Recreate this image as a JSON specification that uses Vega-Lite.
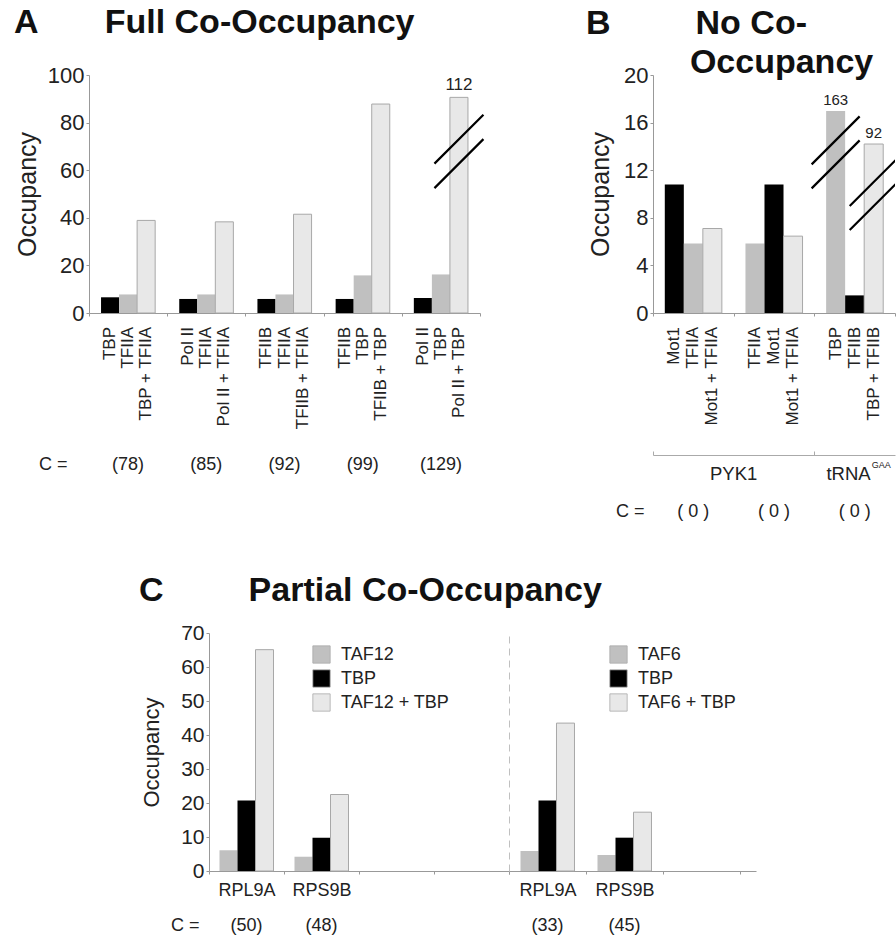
{
  "$schema": "https://vega.github.io/schema/vega-lite/v6.json",
  "background": "white",
  "padding": {"left": 14, "top": 6, "right": 0, "bottom": 0},
  "config": {
    "font": "Liberation Sans",
    "view": {"stroke": null},
    "axis": {"domainColor": "#999", "tickColor": "#999", "labelColor": "#222", "titleColor": "#222", "grid": false, "titleFontWeight": "normal", "labelFont": "Liberation Sans", "titleFont": "Liberation Sans", "labelOverlap": false},
    "title": {"font": "Liberation Sans", "fontSize": 34, "fontWeight": "bold", "color": "#111", "anchor": "start", "frame": "group"},
    "legend": {"title": null, "symbolType": "square", "symbolSize": 300, "labelFontSize": 18, "labelColor": "#222", "labelFont": "Liberation Sans", "rowPadding": 3, "labelOffset": 10, "padding": 0, "symbolStrokeColor": "#aaa", "symbolStrokeWidth": 0.8},
    "text": {"font": "Liberation Sans", "color": "#222"}
  },
  "datasets": {
    "A": [
      {"g": "1", "i": 1, "lab": "TBP", "kind": "factor 1", "v": 6.6},
      {"g": "1", "i": 2, "lab": "TFIIA", "kind": "factor 2", "v": 7.8},
      {"g": "1", "i": 3, "lab": "TBP + TFIIA", "kind": "both", "v": 38.9},
      {"g": "2", "i": 1, "lab": "Pol II", "kind": "factor 1", "v": 5.9},
      {"g": "2", "i": 2, "lab": "TFIIA", "kind": "factor 2", "v": 7.8},
      {"g": "2", "i": 3, "lab": "Pol II + TFIIA", "kind": "both", "v": 38.3},
      {"g": "3", "i": 1, "lab": "TFIIB", "kind": "factor 1", "v": 5.9},
      {"g": "3", "i": 2, "lab": "TFIIA", "kind": "factor 2", "v": 7.8},
      {"g": "3", "i": 3, "lab": "TFIIB + TFIIA", "kind": "both", "v": 41.5},
      {"g": "4", "i": 1, "lab": "TFIIB", "kind": "factor 1", "v": 5.9},
      {"g": "4", "i": 2, "lab": "TBP", "kind": "factor 2", "v": 15.8},
      {"g": "4", "i": 3, "lab": "TFIIB + TBP", "kind": "both", "v": 87.8},
      {"g": "5", "i": 1, "lab": "Pol II", "kind": "factor 1", "v": 6.3},
      {"g": "5", "i": 2, "lab": "TBP", "kind": "factor 2", "v": 16.2},
      {"g": "5", "i": 3, "lab": "Pol II + TBP", "kind": "both", "v": 90.6, "actual": "112"}
    ],
    "Acnt": [
      {"g": "1", "c": "(78)"}, {"g": "2", "c": "(85)"}, {"g": "3", "c": "(92)"}, {"g": "4", "c": "(99)"}, {"g": "5", "c": "(129)"}
    ],
    "Abrk": [{"g": "5", "i": 3, "v": 67.9}],
    "B": [
      {"g": "1", "i": 1, "lab": "Mot1", "kind": "factor 1", "v": 10.8},
      {"g": "1", "i": 2, "lab": "TFIIA", "kind": "factor 2", "v": 5.84},
      {"g": "1", "i": 3, "lab": "Mot1 + TFIIA", "kind": "both", "v": 7.1},
      {"g": "2", "i": 1, "lab": "TFIIA", "kind": "factor 2", "v": 5.84},
      {"g": "2", "i": 2, "lab": "Mot1", "kind": "factor 1", "v": 10.8},
      {"g": "2", "i": 3, "lab": "Mot1 + TFIIA", "kind": "both", "v": 6.46},
      {"g": "3", "i": 1, "lab": "TBP", "kind": "factor 2", "v": 16.97, "actual": "163"},
      {"g": "3", "i": 2, "lab": "TFIIB", "kind": "factor 1", "v": 1.48},
      {"g": "3", "i": 3, "lab": "TBP + TFIIB", "kind": "both", "v": 14.2, "actual": "92"}
    ],
    "Bcnt": [{"g": "1", "c": "( 0 )"}, {"g": "2", "c": "( 0 )"}, {"g": "3", "c": "( 0 )"}],
    "Bbrk": [{"g": "3", "i": 1, "v": 13.5}, {"g": "3", "i": 3, "v": 10.0}],
    "C1": [
      {"gene": "RPL9A", "name": "TAF12", "v": 6.1},
      {"gene": "RPL9A", "name": "TBP", "v": 20.75},
      {"gene": "RPL9A", "name": "TAF12 + TBP", "v": 65.1},
      {"gene": "RPS9B", "name": "TAF12", "v": 4.2},
      {"gene": "RPS9B", "name": "TBP", "v": 9.8},
      {"gene": "RPS9B", "name": "TAF12 + TBP", "v": 22.5}
    ],
    "C1cnt": [{"gene": "RPL9A", "c": "(50)"}, {"gene": "RPS9B", "c": "(48)"}],
    "C2": [
      {"gene": "RPL9A", "name": "TAF6", "v": 5.9},
      {"gene": "RPL9A", "name": "TBP", "v": 20.75},
      {"gene": "RPL9A", "name": "TAF6 + TBP", "v": 43.5},
      {"gene": "RPS9B", "name": "TAF6", "v": 4.7},
      {"gene": "RPS9B", "name": "TBP", "v": 9.8},
      {"gene": "RPS9B", "name": "TAF6 + TBP", "v": 17.3}
    ],
    "C2cnt": [{"gene": "RPL9A", "c": "(33)"}, {"gene": "RPS9B", "c": "(45)"}]
  },
  "bounds": "flush",
  "spacing": 558,
  "resolve": {"scale": {"x": "independent", "y": "independent", "xOffset": "independent", "fill": "independent"}, "legend": {"fill": "independent"}},
  "vconcat": [
    {
      "hconcat": [
        {
          "width": 391,
          "height": 238,
          "title": {"text": "A\u00a0\u00a0\u00a0\u00a0\u00a0\u00a0\u00a0Full Co-Occupancy", "dx": -75, "offset": 24},
          "layer": [
            {
              "data": {"name": "A"},
              "mark": {"type": "bar"},
              "encoding": {
                "x": {"field": "g", "type": "nominal", "scale": {"paddingInner": 0, "paddingOuter": 0}, "axis": {"title": null, "labels": false, "tickBand": "extent", "tickSize": 3}},
                "xOffset": {"field": "i", "type": "nominal", "scale": {"paddingInner": 0, "paddingOuter": 0.667}},
                "y": {"field": "v", "type": "quantitative", "scale": {"domain": [0, 100], "nice": false}, "axis": {"values": [0, 20, 40, 60, 80, 100], "title": "Occupancy", "labelFontSize": 22, "titleFontSize": 25, "tickSize": 3, "labelPadding": 2, "titlePadding": 7, "labelOverlap": false}},
                "fill": {"field": "kind", "type": "nominal", "scale": {"domain": ["factor 1", "factor 2", "both"], "range": ["#000000", "#c0c0c0", "#e8e8e8"]}, "legend": null},
                "stroke": {"condition": {"test": "datum.kind == 'both'", "value": "#a8a8a8"}, "value": null}
              }
            },
            {
              "data": {"name": "A"},
              "mark": {"type": "text", "angle": 270, "align": "right", "baseline": "middle", "dx": -14, "fontSize": 17},
              "encoding": {
                "x": {"field": "g", "type": "nominal"},
                "xOffset": {"field": "i", "type": "nominal"},
                "y": {"datum": 0},
                "text": {"field": "lab"}
              }
            },
            {
              "data": {"name": "A"},
              "transform": [{"filter": "isValid(datum.actual)"}],
              "mark": {"type": "text", "baseline": "alphabetic", "dy": -7, "fontSize": 17},
              "encoding": {
                "x": {"field": "g", "type": "nominal"},
                "xOffset": {"field": "i", "type": "nominal"},
                "y": {"field": "v", "type": "quantitative"},
                "text": {"field": "actual"}
              }
            },
            {
              "data": {"name": "Abrk"},
              "mark": {"type": "point", "shape": "M-1,0.5L1,-1.5M-1,1.5L1,-0.5", "size": 2400, "filled": false, "stroke": "#000", "strokeWidth": 2.2, "opacity": 1},
              "encoding": {
                "x": {"field": "g", "type": "nominal"},
                "xOffset": {"field": "i", "type": "nominal"},
                "y": {"field": "v", "type": "quantitative"}
              }
            },
            {
              "data": {"name": "Acnt"},
              "mark": {"type": "text", "baseline": "middle", "dy": 152, "fontSize": 18},
              "encoding": {
                "x": {"field": "g", "type": "nominal"},
                "y": {"datum": 0},
                "text": {"field": "c"}
              }
            },
            {
              "data": {"values": [{"g": "1", "t": "C ="}]},
              "mark": {"type": "text", "align": "left", "baseline": "middle", "dx": -50, "dy": 152, "fontSize": 18},
              "encoding": {
                "x": {"field": "g", "type": "nominal", "bandPosition": 0},
                "y": {"datum": 0},
                "text": {"field": "t"}
              }
            }
          ]
        },
        {
          "width": 242,
          "height": 238,
          "title": {"text": ["B\u00a0\u00a0\u00a0\u00a0\u00a0\u00a0\u00a0\u00a0\u00a0No Co-", "\u200b\u00a0\u00a0\u00a0\u00a0\u00a0\u00a0\u00a0\u00a0\u00a0\u00a0\u00a0Occupancy"], "dx": -67, "offset": -16, "lineHeight": 39},
          "resolve": {"axis": {"x": "independent"}},
          "layer": [
            {
              "data": {"name": "B"},
              "mark": {"type": "bar"},
              "encoding": {
                "x": {"field": "g", "type": "nominal", "scale": {"paddingInner": 0, "paddingOuter": 0}, "axis": {"title": null, "labels": false, "tickBand": "extent", "tickSize": 3}},
                "xOffset": {"field": "i", "type": "nominal", "scale": {"paddingInner": 0, "paddingOuter": 0.62}},
                "y": {"field": "v", "type": "quantitative", "scale": {"domain": [0, 20], "nice": false}, "axis": {"values": [0, 4, 8, 12, 16, 20], "title": "Occupancy", "labelFontSize": 22, "titleFontSize": 25, "tickSize": 3, "labelPadding": 2, "titlePadding": 10, "labelOverlap": false}},
                "fill": {"field": "kind", "type": "nominal", "scale": {"domain": ["factor 1", "factor 2", "both"], "range": ["#000000", "#c0c0c0", "#e8e8e8"]}, "legend": null},
                "stroke": {"condition": {"test": "datum.kind == 'both'", "value": "#a8a8a8"}, "value": null}
              }
            },
            {
              "data": {"name": "B"},
              "mark": {"type": "text", "angle": 270, "align": "right", "baseline": "middle", "dx": -14, "fontSize": 17},
              "encoding": {
                "x": {"field": "g", "type": "nominal", "axis": {"title": null, "labels": false, "orient": "bottom", "offset": 142, "values": ["1", "3"], "bandPosition": 0, "tickSize": -4, "domainColor": "#aaa", "tickColor": "#aaa"}},
                "xOffset": {"field": "i", "type": "nominal"},
                "y": {"datum": 0},
                "text": {"field": "lab"}
              }
            },
            {
              "data": {"name": "B"},
              "transform": [{"filter": "isValid(datum.actual)"}],
              "mark": {"type": "text", "baseline": "alphabetic", "dy": -6, "fontSize": 15},
              "encoding": {
                "x": {"field": "g", "type": "nominal", "axis": null},
                "xOffset": {"field": "i", "type": "nominal"},
                "y": {"field": "v", "type": "quantitative"},
                "text": {"field": "actual"}
              }
            },
            {
              "data": {"name": "Bbrk"},
              "mark": {"type": "point", "shape": "M-1,0.5L1,-1.5M-1,1.5L1,-0.5", "size": 2304, "filled": false, "stroke": "#000", "strokeWidth": 2.2, "opacity": 1, "clip": true},
              "encoding": {
                "x": {"field": "g", "type": "nominal", "axis": null},
                "xOffset": {"field": "i", "type": "nominal"},
                "y": {"field": "v", "type": "quantitative"}
              }
            },
            {
              "data": {"name": "Bcnt"},
              "mark": {"type": "text", "baseline": "middle", "dy": 199, "fontSize": 18},
              "encoding": {
                "x": {"field": "g", "type": "nominal", "axis": null},
                "y": {"datum": 0},
                "text": {"field": "c"}
              }
            },
            {
              "data": {"values": [{"g": "1", "t": "C ="}]},
              "mark": {"type": "text", "align": "left", "baseline": "middle", "dx": -37, "dy": 199, "fontSize": 18},
              "encoding": {
                "x": {"field": "g", "type": "nominal", "bandPosition": 0, "axis": null},
                "y": {"datum": 0},
                "text": {"field": "t"}
              }
            },
            {
              "data": {"values": [{"g": "1", "t": "PYK1"}]},
              "mark": {"type": "text", "align": "center", "baseline": "middle", "dy": 161, "fontSize": 18.5},
              "encoding": {
                "x": {"field": "g", "type": "nominal", "bandPosition": 1, "axis": null},
                "y": {"datum": 0},
                "text": {"field": "t"}
              }
            },
            {
              "data": {"values": [{"g": "3", "t": "tRNA"}]},
              "mark": {"type": "text", "align": "right", "baseline": "middle", "dx": 16, "dy": 161, "fontSize": 18.5},
              "encoding": {
                "x": {"field": "g", "type": "nominal", "axis": null},
                "y": {"datum": 0},
                "text": {"field": "t"}
              }
            },
            {
              "data": {"values": [{"g": "3", "t": "GAA"}]},
              "mark": {"type": "text", "align": "left", "baseline": "middle", "dx": 17, "dy": 152, "fontSize": 9},
              "encoding": {
                "x": {"field": "g", "type": "nominal", "axis": null},
                "y": {"datum": 0},
                "text": {"field": "t"}
              }
            }
          ]
        }
      ],
      "spacing": 173,
      "bounds": "flush",
      "resolve": {"scale": {"x": "independent", "y": "independent", "xOffset": "independent", "fill": "independent"}, "legend": {"fill": "independent"}}
    },
    {
      "hconcat": [
        {
          "width": 120,
          "height": 238,
          "data": {"values": [{}]},
          "mark": {"type": "point", "opacity": 0}
        },
        {
          "width": 300,
          "height": 238,
          "title": {"text": "C\u00a0\u00a0\u00a0\u00a0\u00a0\u00a0\u00a0\u00a0\u00a0Partial Co-Occupancy", "dx": -70, "offset": 14},
          "resolve": {"axis": {"y": "independent"}},
          "layer": [
            {
              "data": {"name": "C1"},
              "mark": {"type": "bar"},
              "encoding": {
                "x": {"field": "gene", "type": "nominal", "scale": {"domain": ["RPL9A", "RPS9B", "_a", "_b"], "paddingInner": 0, "paddingOuter": 0}, "axis": {"title": null, "tickBand": "extent", "tickSize": 3, "labelAngle": 0, "labelFontSize": 18, "labelPadding": 7, "labelExpr": "substring(datum.value, 0, 1) == '_' ? '' : datum.value"}},
                "xOffset": {"field": "name", "type": "nominal", "scale": {"domain": ["TAF12", "TBP", "TAF12 + TBP"], "paddingInner": 0, "paddingOuter": 0.583}},
                "y": {"field": "v", "type": "quantitative", "scale": {"domain": [0, 70], "nice": false}, "axis": {"orient": "left", "values": [0, 20, 40, 60], "title": "Occupancy", "labelFontSize": 21, "titleFontSize": 22, "tickSize": 3, "labelPadding": 2, "titlePadding": 17, "labelOverlap": false}},
                "fill": {"field": "name", "type": "nominal", "scale": {"domain": ["TAF12", "TBP", "TAF12 + TBP"], "range": ["#c0c0c0", "#000000", "#e8e8e8"]}, "legend": {"orient": "none", "legendX": 103, "legendY": 12}},
                "stroke": {"condition": {"test": "datum.name == 'TAF12 + TBP'", "value": "#a8a8a8"}, "value": null}
              }
            },
            {
              "data": {"name": "C1cnt"},
              "mark": {"type": "text", "baseline": "middle", "dy": 55, "fontSize": 18},
              "encoding": {
                "x": {"field": "gene", "type": "nominal"},
                "y": {"datum": 0, "axis": {"orient": "left", "values": [10, 30, 50, 70], "title": null, "domain": false, "labelFontSize": 21, "tickSize": 3, "labelPadding": 2, "labelOverlap": false}},
                "text": {"field": "c"}
              }
            },
            {
              "data": {"values": [{"gene": "RPL9A", "t": "C ="}]},
              "mark": {"type": "text", "align": "left", "baseline": "middle", "dx": -38, "dy": 55, "fontSize": 18},
              "encoding": {
                "x": {"field": "gene", "type": "nominal", "bandPosition": 0},
                "y": {"datum": 0, "axis": null},
                "text": {"field": "t"}
              }
            }
          ]
        },
        {
          "width": 247,
          "height": 238,
          "layer": [
            {
              "data": {"name": "C2"},
              "mark": {"type": "bar"},
              "encoding": {
                "x": {"field": "gene", "type": "nominal", "scale": {"domain": ["RPL9A", "RPS9B", "_c"], "paddingInner": 0, "paddingOuter": 0.104, "align": 0}, "axis": {"title": null, "tickBand": "extent", "tickSize": 3, "labelAngle": 0, "labelFontSize": 18, "labelPadding": 7, "labelExpr": "substring(datum.value, 0, 1) == '_' ? '' : datum.value"}},
                "xOffset": {"field": "name", "type": "nominal", "scale": {"domain": ["TAF6", "TBP", "TAF6 + TBP"], "paddingInner": 0, "paddingOuter": 0.639}},
                "y": {"field": "v", "type": "quantitative", "scale": {"domain": [0, 70], "nice": false}, "axis": {"title": null, "labels": false, "ticks": false, "domainDash": [7, 5], "domainColor": "#c0c0c0"}},
                "fill": {"field": "name", "type": "nominal", "scale": {"domain": ["TAF6", "TBP", "TAF6 + TBP"], "range": ["#c0c0c0", "#000000", "#e8e8e8"]}, "legend": {"orient": "none", "legendX": 100, "legendY": 12}},
                "stroke": {"condition": {"test": "datum.name == 'TAF6 + TBP'", "value": "#a8a8a8"}, "value": null}
              }
            },
            {
              "data": {"name": "C2cnt"},
              "mark": {"type": "text", "baseline": "middle", "dy": 55, "fontSize": 18},
              "encoding": {
                "x": {"field": "gene", "type": "nominal"},
                "y": {"datum": 0},
                "text": {"field": "c"}
              }
            }
          ]
        }
      ],
      "spacing": 0,
      "bounds": "flush",
      "resolve": {"scale": {"x": "independent", "y": "independent", "xOffset": "independent", "fill": "independent"}, "legend": {"fill": "independent"}}
    }
  ]
}
